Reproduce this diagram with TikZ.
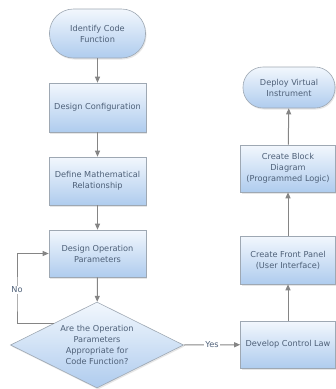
\documentclass[tikz,border=0pt]{standalone}
\usepackage{fontspec}
\setmainfont{DejaVu Sans}
\usetikzlibrary{shapes.geometric,arrows.meta,shadows}
\definecolor{boxtop}{HTML}{F2F7FD}
\definecolor{boxbot}{HTML}{AFCCEE}
\definecolor{boxline}{HTML}{9EA8B3}
\definecolor{txtcol}{HTML}{4E6078}
\definecolor{arrcol}{HTML}{858585}
\begin{document}
\begin{tikzpicture}[x=1pt,y=-1pt,
  font=\fontsize{8.2}{11}\selectfont,
  base/.style={draw=boxline,line width=0.6pt,top color=boxtop,bottom color=boxbot,
    text=txtcol,align=center,inner sep=1pt,
    drop shadow={opacity=0.2,shadow xshift=1pt,shadow yshift=-1.5pt}},
  process/.style={base,rectangle,minimum width=97pt},
  terminal/.style={base,rectangle,rounded corners=20pt},
  decision/.style={base,diamond,minimum width=173pt,minimum height=86pt,aspect=2,inner sep=0pt},
  flow/.style={draw=arrcol,line width=1pt,-{Triangle[length=6pt,width=5pt]}},
  lbl/.style={fill=white,text=txtcol,inner sep=1pt}]
\useasboundingbox (0,0) rectangle (336,389);
% left column
\node[terminal,minimum width=96pt,minimum height=49pt,rounded corners=24pt] at (97.5,33.5) (ident) {Identify Code\\Function};
\node[process,minimum height=49pt] at (97.5,107.5) (config) {Design Configuration};
\node[process,minimum height=48pt] at (97.5,181) (math) {Define Mathematical\\Relationship};
\node[process,minimum height=47pt] at (97.5,253.5) (ops) {Design Operation\\Parameters};
\node[decision] at (97,345) (check) {Are the Operation\\Parameters\\Appropriate for\\Code Function?};
% right column
\node[process,minimum width=95pt,minimum height=47pt] at (288,344.5) (law) {Develop Control Law};
\node[process,minimum width=95pt,minimum height=48pt] at (288,260) (panel) {Create Front Panel\\(User Interface)};
\node[process,minimum width=95pt,minimum height=47pt] at (288,168.5) (block) {Create Block\\Diagram\\(Programmed Logic)};
\node[terminal,minimum width=92pt,minimum height=41pt] at (289,87.5) (deploy) {Deploy Virtual\\Instrument};
\coordinate (loop) at (17,300);
% connectors
\draw[flow] (ident) -- (config);
\draw[flow] (config) -- (math);
\draw[flow] (math) -- (ops);
\draw[flow] (ops) -- (check);
\draw[flow] (check.north west) -| (loop) |- (ops);
\node[lbl] at (17,290) (no) {No};
\draw[flow] (check.east) -- node[lbl] (yes) {Yes} (law);
\draw[flow] (law) -- (panel);
\draw[flow] (panel) -- (block);
\draw[flow] (block) -- (deploy);
\end{tikzpicture}
\end{document}
